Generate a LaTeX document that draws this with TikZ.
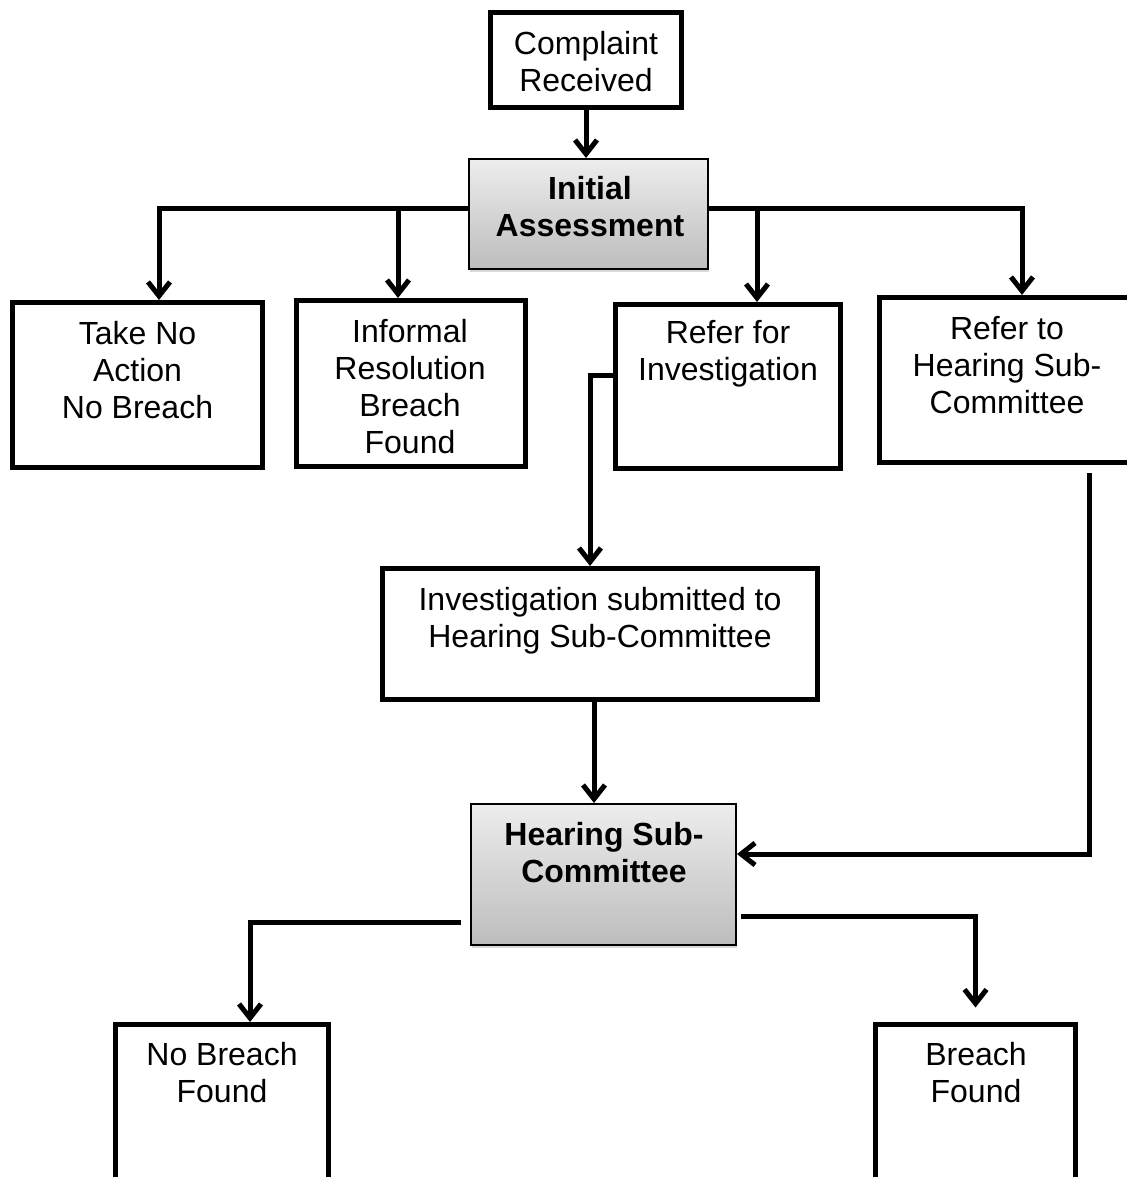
\documentclass[tikz,border=0pt]{standalone}
\usepackage{fontspec}
\setmainfont{Liberation Sans}
\usetikzlibrary{positioning,arrows.meta,shadows,calc}

\definecolor{shadetop}{gray}{0.93}
\definecolor{shadebot}{gray}{0.74}

\tikzset{
  stepbox/.style={draw, line width=2.5pt, fill=white, inner sep=0pt},
  mainbox/.style={draw, line width=1pt, top color=shadetop, bottom color=shadebot, inner sep=0pt,
    drop shadow={shadow xshift=0.6pt, shadow yshift=-1.5pt, opacity=0.3}},
  txt/.style={align=center, inner sep=0pt, font=\fontsize{16}{18.5}\selectfont},
  arr/.style={line width=2.5pt, -{Straight Barb[length=7pt,width=11pt]}},
}

\begin{document}
\begin{tikzpicture}[x=0.5pt,y=-0.5pt]
    \clip (0,0) rectangle (1127,1177);

    % Eingang
    \node[stepbox, minimum width=95.5pt, minimum height=47.5pt] (cr) at (586,60) {};
    \node[txt] (crtext) at (586,62) {Complaint\\Received};
    \node[mainbox, minimum width=119.5pt, minimum height=55pt] (ia) at (588.5,214) {};
    \node[txt, font=\fontsize{16}{18.5}\selectfont\bfseries] (iatext) at (590,207) {Initial\\Assessment};

    % Entscheidungen
    \node[stepbox, minimum width=125pt, minimum height=82.5pt] (tna) at (137.5,385) {};
    \node[txt] (tnatext) at (137.5,370) {Take No\\Action\\No Breach};
    \node[stepbox, minimum width=114.5pt, minimum height=83pt] (inf) at (411,383.5) {};
    \node[txt] (inftext) at (410,387) {Informal\\Resolution\\Breach\\Found};
    \node[stepbox, minimum width=112.5pt, minimum height=82pt] (ri) at (728,386.5) {};
    \node[txt] (ritext) at (728,354) {Refer for\\Investigation};
    \node[stepbox, minimum width=127.5pt, minimum height=82.5pt] (rhs) at (1007,380) {};
    \node[txt] (rhstext) at (1007,365) {Refer to\\Hearing Sub-\\Committee};

    % Untersuchung und Anhoerung
    \node[stepbox, minimum width=217.5pt, minimum height=65.5pt] (inv) at (600,634) {};
    \node[txt] (invtext) at (600,621) {Investigation submitted to\\Hearing Sub-Committee};
    \node[mainbox, minimum width=132.5pt, minimum height=70.5pt] (hsc) at (603.5,874.5) {};
    \node[txt, font=\fontsize{16}{18.5}\selectfont\bfseries] (hsctext) at (604,852.5) {Hearing Sub-\\Committee};

    % Ergebnis
    \node[stepbox, minimum width=106.5pt, minimum height=100pt] (nbf) at (222,1124.5) {};
    \node[txt] (nbftext) at (222,1073) {No Breach\\Found};
    \node[stepbox, minimum width=100pt, minimum height=100pt] (bf) at (975.5,1124.5) {};
    \node[txt] (bftext) at (976,1073) {Breach\\Found};

    % Pfeile
    \coordinate (forkl) at ([yshift=3pt]ia.west);
    \coordinate (forkr) at ([yshift=3pt]ia.east);
    \draw[arr] (cr.south) -- (cr.south |- ia.north);
    \draw[arr] (forkl) -| ([xshift=10.75pt]tna.north);
    \draw[arr] ([xshift=-6.5pt]inf.north |- forkl) -- ([xshift=-6.5pt]inf.north);
    \draw[arr] ([xshift=14.5pt]ri.north |- forkr) -- ([xshift=14.5pt]ri.north);
    \draw[arr] (forkr) -| ([xshift=7.5pt]rhs.north);

    \draw[arr] ([yshift=5.75pt]ri.west) -| ([xshift=-5pt]inv.north);
    \draw[arr] ([xshift=-3pt]inv.south) -- ([xshift=-3pt]inv.south |- hsc.north);
    \draw[arr] ([xshift=41pt,yshift=-4pt]rhs.south) |- ([yshift=10.25pt]hsc.east);

    \draw[arr] ([xshift=-4.5pt,yshift=-23.75pt]hsc.west) -| ([xshift=14pt]nbf.north);
    \draw[arr] ([xshift=2pt,yshift=-20.75pt]hsc.east) -| ([yshift=7.25pt]bf.north);

  \end{tikzpicture}
\end{document}
